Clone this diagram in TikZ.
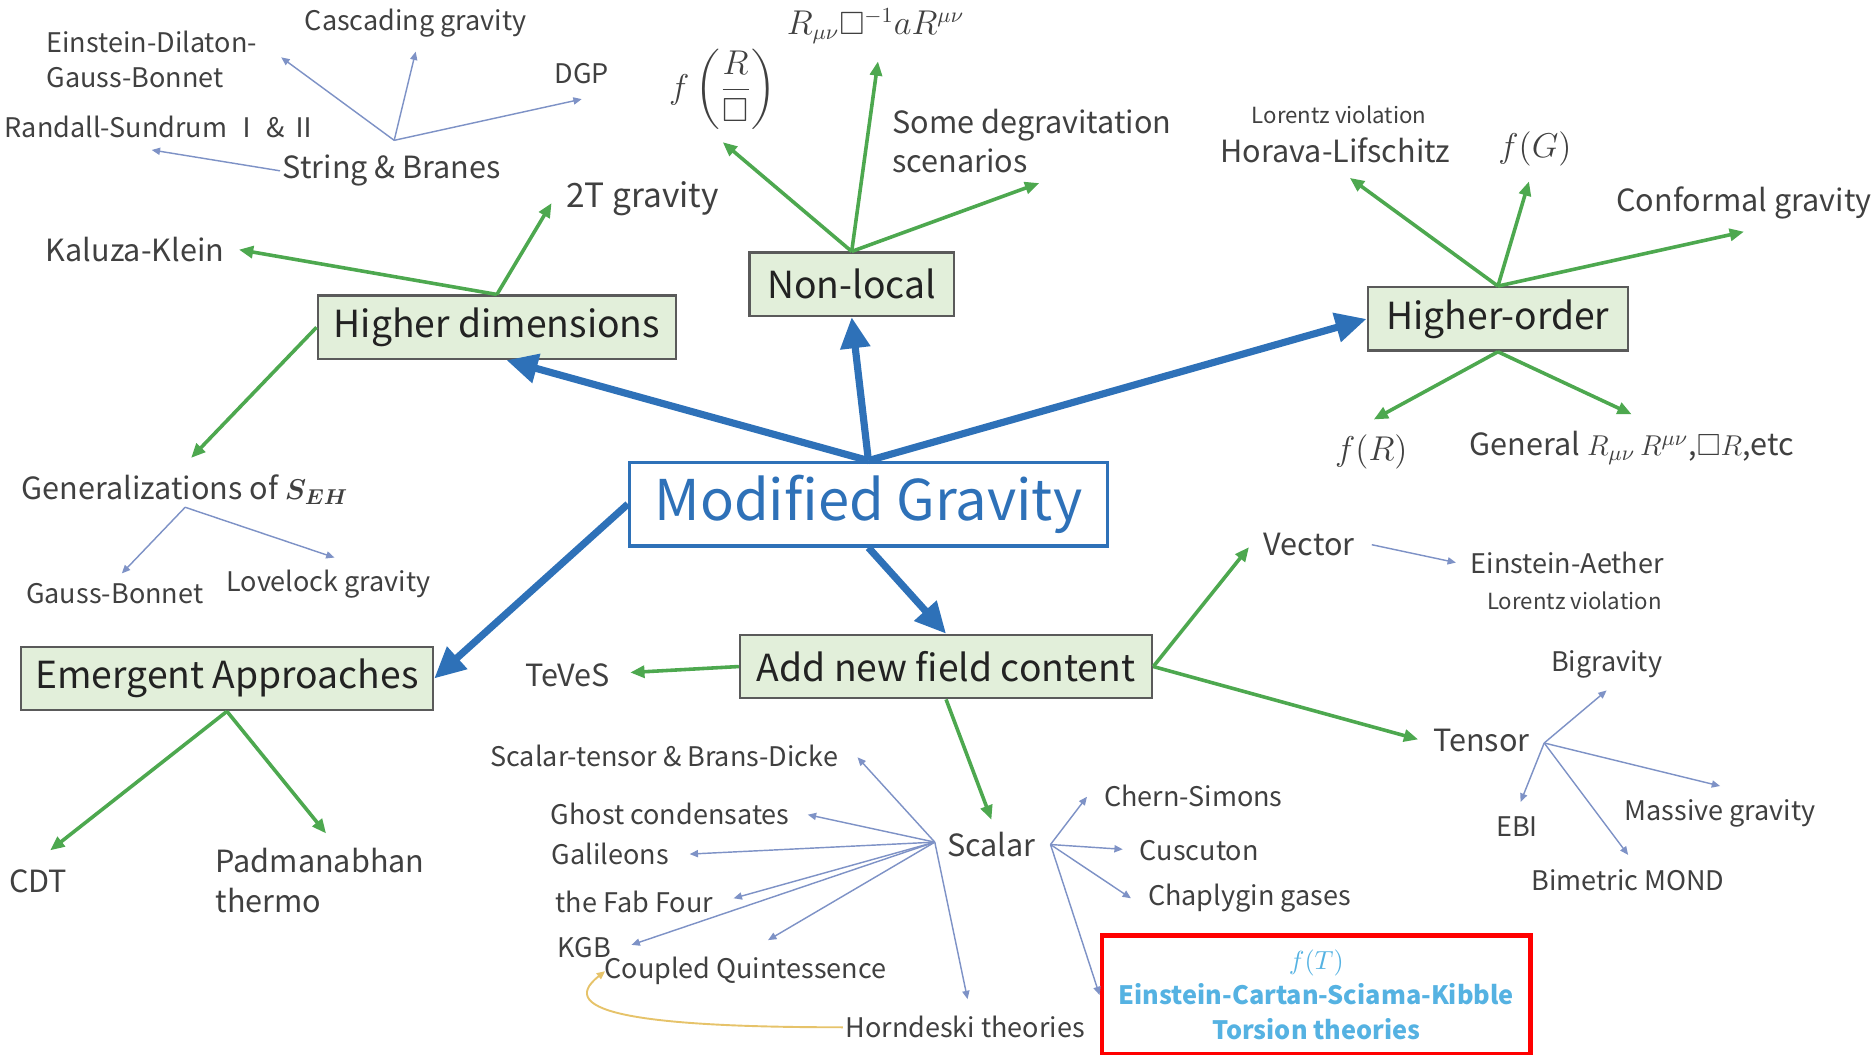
\documentclass[tikz,border=0pt]{standalone}
\usepackage{amsmath,amssymb}
\usepackage{fontspec}
\setmainfont{Noto Sans CJK SC}
\usepackage{xcolor}
\usepackage{tikz}
\usetikzlibrary{arrows.meta,calc}
\definecolor{mgblue}{HTML}{2E71B8}
\definecolor{mggreen}{HTML}{4DA84F}
\definecolor{boxfill}{HTML}{E2EFDA}
\definecolor{boxline}{HTML}{5A5A5A}
\definecolor{boxtext}{HTML}{222222}
\definecolor{lbltext}{HTML}{404040}
\definecolor{twigblue}{HTML}{7E92C6}
\definecolor{torblue}{HTML}{55B2E2}
\definecolor{goldline}{HTML}{E6C36A}

\begin{document}
\begin{tikzpicture}[x=0.5pt,y=-0.5pt,
  mainlbl/.style={draw=mgblue,fill=white,line width=1.4pt,text=mgblue,font=\fontsize{23.5}{28}\selectfont,minimum height=35pt,minimum width=200pt},
  catbox/.style={draw=boxline,fill=boxfill,line width=1pt,text=boxtext,font=\fontsize{15.6}{19}\selectfont,minimum height=26.5pt,inner xsep=6pt},
  leaf/.style={font=\fontsize{12.8}{16.5}\selectfont,text=lbltext,inner sep=1pt},
  subleaf/.style={font=\fontsize{11.3}{14.5}\selectfont,text=lbltext,inner sep=1pt},
  remark/.style={font=\fontsize{9.3}{11}\selectfont,text=lbltext,inner sep=1pt},
  torbox/.style={draw=red,line width=2pt,text=torblue,font=\bfseries\fontsize{10.6}{14.75}\selectfont,align=center,minimum width=179.5pt,minimum height=50pt},
  bigarr/.style={-{Triangle[length=13pt,width=12pt]},mgblue,line width=3pt},
  grarr/.style={-{Triangle[length=6pt,width=5pt]},mggreen,line width=1.5pt},
  twig/.style={-{Triangle[length=3.5pt,width=3pt]},twigblue,line width=0.6pt}]
\useasboundingbox (0,0) rectangle (1568,883);
\node[mainlbl] (mg) at (727,422) {Modified Gravity};
\node[catbox,minimum width=150pt] (hd) at (416,274) {Higher dimensions};
\node[catbox,minimum width=85.5pt] (nl) at (713,238) {Non-local};
\node[catbox,minimum width=109pt] (ho) at (1254,267) {Higher-order};
\node[catbox,minimum width=172.5pt] (ea) at (190,568) {Emergent Approaches};
\node[catbox,minimum width=172.5pt] (af) at (792,558) {Add new field content};
\draw[bigarr] (mg.north) -- ($(hd.south)+(8,0)$);
\draw[bigarr] (mg.north) -- (nl.south);
\draw[bigarr] (mg.north) -- (ho.west);
\draw[bigarr] (mg.west) -- (ea.east);
\draw[bigarr] (mg.south) -- (af.north);
% higher dimensions
\node[subleaf,align=left] (edgb) at (127,50) {Einstein-Dilaton-\\Gauss-Bonnet};
\node[subleaf] (cg) at (348,19) {Cascading gravity};
\node[subleaf] (dgp) at (487,62) {DGP};
\node[subleaf] (rs) at (135,106) {Randall-Sundrum Ⅰ \& Ⅱ};
\node[leaf] (sb) at (328,143) {String \& Branes};
\node[leaf] (kk) at (113,209) {Kaluza-Klein};
\node[leaf,font=\fontsize{14}{17}\selectfont] (tt) at (538,166) {2T gravity};
\node[leaf] (gen) at (155,410) {Generalizations of $\boldsymbol{S_{EH}}$};
\node[subleaf] (gb) at (96,497) {Gauss-Bonnet};
\node[subleaf] (lg) at (275,489) {Lovelock gravity};
\draw[grarr] (hd.north) -- ($(kk.east)+(10,0)$);
\draw[grarr] (hd.north) -- ($(tt.west)+(-10,4)$);
\draw[grarr] (hd.west) -- ($(gen.north)+(5,-12)$);
\draw[twig] ($(sb.north)+(2,-10)$) -- ($(edgb.east)+(18,-2)$);
\draw[twig] ($(sb.north)+(2,-10)$) -- ($(cg.south)+(0,10)$);
\draw[twig] ($(sb.north)+(2,-10)$) -- ($(dgp.south)+(0,10)$);
\draw[twig] (sb.west) -- ($(rs.south)+(-8,8)$);
\draw[twig] (gen.south) -- ($(gb.north)+(6,-6)$);
\draw[twig] (gen.south) -- ($(lg.north)+(5,-8)$);
% non-local
\node[leaf,font=\fontsize{14}{17}\selectfont] (frb) at (605,75) {$f\left(\dfrac{R}{\Box}\right)$};
\node[leaf,font=\fontsize{13.5}{16}\selectfont] (rbr) at (733,22) {$R_{\mu\nu}\Box^{-1}aR^{\mu\nu}$};
\node[leaf,align=left] (sd) at (864,118) {Some degravitation\\scenarios};
\draw[grarr] (nl.north) -- ($(frb.south)+(0,8)$);
\draw[grarr] (nl.north) -- ($(rbr.south)+(2,12)$);
\draw[grarr] (nl.north) -- ($(sd.south)+(6,6)$);
% higher-order
\node[remark] (lvh) at (1121,96) {Lorentz violation};
\node[leaf] (hl) at (1118,126) {Horava-Lifschitz};
\node[leaf,font=\fontsize{13.5}{16}\selectfont] (fg) at (1285,125) {$f(G)$};
\node[leaf] (cfg) at (1460,170) {Conformal gravity};
\node[leaf,font=\fontsize{13.5}{16}\selectfont] (fr) at (1148,378) {$f(R)$};
\node[leaf] (grr) at (1366,375) {General $R_{\mu\nu}\,R^{\mu\nu}$,$\Box R$,etc};
\draw[grarr] (ho.north) -- ($(hl.south)+(12,10)$);
\draw[grarr] (ho.north) -- ($(fg.south)+(-5,10)$);
\draw[grarr] (ho.north) -- ($(cfg.south)+(0,8)$);
\draw[grarr] (ho.south) -- ($(fr.north)+(2,-10)$);
\draw[grarr] (ho.south) -- ($(grr.north)+(0,-12)$);
% emergent
\node[leaf] (cdt) at (32,738) {CDT};
\node[leaf,align=left] (pad) at (268,737) {Padmanabhan\\thermo};
\draw[grarr] (ea.south) -- ($(cdt.north)+(10,-14)$);
\draw[grarr] (ea.south) -- ($(pad.north)+(5,-10)$);
% new field content
\node[leaf] (tv) at (475,565) {TeVeS};
\node[leaf] (vec) at (1096,456) {Vector};
\node[subleaf] (ae) at (1312,471) {Einstein-Aether};
\node[remark] (lv2) at (1318,503) {Lorentz violation};
\node[leaf] (ten) at (1240,620) {Tensor};
\node[subleaf] (bg) at (1345,556) {Bigravity};
\node[subleaf] (ebi) at (1270,692) {EBI};
\node[subleaf] (mas) at (1440,681) {Massive gravity};
\node[subleaf] (bm) at (1363,737) {Bimetric MOND};
\node[leaf] (sc) at (830,707) {Scalar};
\draw[grarr] (af.west) -- ($(tv.east)+(15,-2)$);
\draw[grarr] (af.east) -- ($(vec.west)+(-10,2)$);
\draw[grarr] (af.east) -- ($(ten.west)+(-10,-1)$);
\draw[grarr] (af.south) -- ($(sc.north)+(0,-8)$);
\draw[twig] ($(vec.east)+(12,0)$) -- ($(ae.west)+(-10,0)$);
\draw[twig] ($(ten.east)+(10,2)$) -- ($(bg.south)+(0,8)$);
\draw[twig] ($(ten.east)+(10,2)$) -- ($(ebi.north)+(3,-10)$);
\draw[twig] ($(ten.east)+(10,2)$) -- ($(mas.north)+(0,-9)$);
\draw[twig] ($(ten.east)+(10,2)$) -- ($(bm.north)+(0,-10)$);
% scalar
\node[subleaf] (st) at (556,633) {Scalar-tensor \& Brans-Dicke};
\node[subleaf] (gc) at (561,681) {Ghost condensates};
\node[subleaf] (gal) at (511,715) {Galileons};
\node[subleaf] (ff) at (531,755) {the Fab Four};
\node[subleaf] (kgb) at (489,793) {KGB};
\node[subleaf] (cq) at (624,813) {Coupled Quintessence};
\node[subleaf] (hor) at (808,860) {Horndeski theories};
\node[subleaf] (cs) at (999,666) {Chern-Simons};
\node[subleaf] (cus) at (1004,712) {Cuscuton};
\node[subleaf] (cha) at (1046,752) {Chaplygin gases};
\node[torbox] (ft) at (1102,833) {$f(T)$\\Einstein-Cartan-Sciama-Kibble\\Torsion theories};
\draw[twig] ($(sc.west)+(-8,-2)$) -- ($(st.east)+(14,1)$);
\draw[twig] ($(sc.west)+(-8,-2)$) -- ($(gc.east)+(13,1)$);
\draw[twig] ($(sc.west)+(-8,-2)$) -- ($(gal.east)+(15,0)$);
\draw[twig] ($(sc.west)+(-8,-2)$) -- ($(ff.east)+(15,-3)$);
\draw[twig] ($(sc.west)+(-8,-2)$) -- ($(kgb.east)+(15,-2)$);
\draw[twig] ($(sc.west)+(-8,-2)$) -- ($(cq.north)+(19,-12)$);
\draw[twig] ($(sc.west)+(-8,-2)$) -- ($(hor.north)+(2,-12)$);
\draw[twig] ($(sc.east)+(10,0)$) -- ($(cs.west)+(-12,1)$);
\draw[twig] ($(sc.east)+(10,0)$) -- ($(cus.west)+(-12,-1)$);
\draw[twig] ($(sc.east)+(10,0)$) -- ($(cha.west)+(-12,0)$);
\draw[twig] ($(sc.east)+(10,0)$) -- (ft.west);
\draw[-{Triangle[length=3.5pt,width=3pt]},goldline,line width=0.8pt] (hor.west) .. controls (540,860) and (462,848) .. ($(cq.west)+(3,0)$);
\end{tikzpicture}
\end{document}
